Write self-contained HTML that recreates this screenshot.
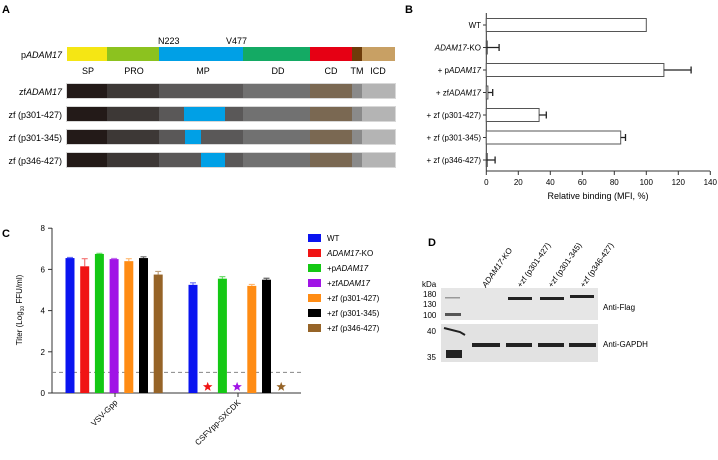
<!DOCTYPE html>
<html><head><meta charset="utf-8"><style>
body{margin:0;background:#fff}
svg{display:block;font-family:"Liberation Sans",Arial,sans-serif}
</style></head><body>
<svg id="fig" width="718" height="460" viewBox="0 0 718 460" xmlns="http://www.w3.org/2000/svg">
<!-- Panel A -->
<g>
<text x="2" y="13" font-size="11" font-weight="bold">A</text>
<text x="158" y="44" font-size="9">N223</text>
<text x="226" y="44" font-size="9">V477</text>
<g font-size="9" text-anchor="end">
<text x="62" y="58">p<tspan font-style="italic">ADAM17</tspan></text>
<text x="62" y="95">zf<tspan font-style="italic">ADAM17</tspan></text>
<text x="62" y="118">zf (p301-427)</text>
<text x="62" y="141">zf (p301-345)</text>
<text x="62" y="164">zf (p346-427)</text>
</g>
<g>
<rect x="67" y="47" width="40" height="14" fill="#f5e614"/>
<rect x="107" y="47" width="52" height="14" fill="#8cc21f"/>
<rect x="159" y="47" width="84" height="14" fill="#00a0e6"/>
<rect x="243" y="47" width="67" height="14" fill="#14aa64"/>
<rect x="310" y="47" width="42" height="14" fill="#e60014"/>
<rect x="352" y="47" width="10" height="14" fill="#6e3c0a"/>
<rect x="362" y="47" width="33" height="14" fill="#c8a064"/>
</g>
<g font-size="9" text-anchor="middle">
<text x="88" y="74">SP</text><text x="134" y="74">PRO</text><text x="203" y="74">MP</text>
<text x="278" y="74">DD</text><text x="331" y="74">CD</text><text x="357" y="74">TM</text><text x="378" y="74">ICD</text>
</g>
<g id="zfrows"></g>
</g>
<!-- Panel B -->
<g>
<text x="405" y="13" font-size="11" font-weight="bold">B</text>
<g id="chartB"></g>
</g>
<!-- Panel C -->
<g>
<text x="2" y="237" font-size="11" font-weight="bold">C</text>
<g id="chartC"></g>
</g>
<!-- Panel D -->
<g>
<text x="428" y="246" font-size="11" font-weight="bold">D</text>
<g font-size="8">
<text transform="translate(486,288) rotate(-55)"><tspan font-style="italic">ADAM17</tspan>-KO</text>
<text transform="translate(521,288) rotate(-55)">+zf (p301-427)</text>
<text transform="translate(552,288) rotate(-55)">+zf (p301-345)</text>
<text transform="translate(584,288) rotate(-55)">+zf (p346-427)</text>
</g>
<g font-size="8">
<text x="422" y="287">kDa</text>
<text x="423" y="297">180</text><text x="423" y="307">130</text><text x="423" y="318">100</text>
<text x="427" y="334">40</text><text x="427" y="360">35</text>
</g>
<rect x="441" y="288" width="157" height="32" fill="#e6e6e6"/>
<rect x="441" y="324" width="157" height="38" fill="#e2e2e2"/>
<g fill="#222">
<rect x="445" y="297" width="15" height="1.5" fill="#999"/>
<rect x="445" y="313" width="16" height="3" fill="#555"/>
<rect x="508" y="297" width="24" height="3"/>
<rect x="540" y="297" width="24" height="3"/>
<rect x="570" y="295" width="24" height="3"/>
<path d="M444 328 L460 332 L465 335" stroke="#222" stroke-width="2" fill="none"/>
<rect x="446" y="350" width="16" height="8"/>
<rect x="472" y="343" width="28" height="4"/>
<rect x="506" y="343" width="26" height="4"/>
<rect x="538" y="343" width="26" height="4"/>
<rect x="569" y="343" width="27" height="4"/>
</g>
<text x="603" y="310" font-size="8">Anti-Flag</text>
<text x="603" y="347" font-size="8">Anti-GAPDH</text>
</g>
</svg>
<script>
const NS="http://www.w3.org/2000/svg";
function mk(parent,tag,attrs,text){const e=document.createElementNS(NS,tag);for(const k in attrs)e.setAttribute(k,attrs[k]);if(text!==undefined)e.textContent=text;parent.appendChild(e);return e;}

// Panel A zf rows
const segX=[67,107,159,243,310,352,362,395];
const zfColors=["#231a18","#3d3836","#5a5858","#717171","#7a6852","#8a8a8a","#b4b4b4"];
const rowY=[84,107,130,153];
const blueSeg=[null,[184,225],[185,201],[201,225]];
const zr=document.getElementById('zfrows');
rowY.forEach((y,r)=>{
  const g=mk(zr,'g',{});
  
  
  mk(g,'rect',{x:66,y:y-1,width:330,height:16,fill:'#d8d8d8'});
  for(let i=0;i<7;i++)mk(g,'rect',{x:segX[i],y:y,width:segX[i+1]-segX[i],height:14,fill:zfColors[i]});
  if(blueSeg[r])mk(g,'rect',{x:blueSeg[r][0],y:y,width:blueSeg[r][1]-blueSeg[r][0],height:14,fill:'#00a0e6'});
});

// Panel B
const bCats=["WT","ADAM17-KO","+ pADAM17","+ zfADAM17","+ zf (p301-427)","+ zf (p301-345)","+ zf (p346-427)"];
const bValues=[100,0,111,1,33,84,0];
const bErrors=[0,8,17,3,4.5,3,5.5];
const bTicks=[0,20,40,60,80,100,120,140];
const cB=document.getElementById('chartB');
const bx=v=>486.3+v*1.6;
const by=i=>25+i*22.5;
mk(cB,'line',{x1:486.3,y1:13,x2:486.3,y2:171,stroke:'#333','stroke-width':1});
mk(cB,'line',{x1:486.3,y1:171,x2:710,y2:171,stroke:'#333','stroke-width':1});
bTicks.forEach(t=>{
  const l=mk(cB,'line',{x1:bx(t),y1:171,x2:bx(t),y2:175,stroke:'#333'});
  
  const tx=mk(cB,'text',{x:bx(t),y:185,'font-size':8,'text-anchor':'middle'},t);
  
});
const bt=mk(cB,'text',{x:598,y:199,'font-size':9,'text-anchor':'middle'},'Relative binding (MFI, %)');

const bLabelHTML=["WT","<tspan font-style='italic'>ADAM17</tspan>-KO","+ p<tspan font-style='italic'>ADAM17</tspan>","+ zf<tspan font-style='italic'>ADAM17</tspan>","+ zf (p301-427)","+ zf (p301-345)","+ zf (p346-427)"];
bCats.forEach((c,i)=>{
  const y=by(i);
  const lab=mk(cB,'text',{x:481,y:y+3,'font-size':8,'text-anchor':'end'});
  lab.innerHTML=bLabelHTML[i];
  
  mk(cB,'line',{x1:483,y1:y,x2:486.3,y2:y,stroke:'#333'});
  const r=mk(cB,'rect',{x:486.3,y:y-6.5,width:Math.max(bValues[i]*1.6,1),height:13,fill:'#fff',stroke:'#555','stroke-width':1});
  
  if(bErrors[i]>0){
    const x1=bx(bValues[i]),x2=bx(bValues[i]+bErrors[i]);
    const e=mk(cB,'path',{d:`M${x1} ${y}H${x2}M${x2} ${y-3.5}V${y+3.5}`,stroke:'#222','stroke-width':1.3,fill:'none'});
    
  }
});

// Panel C
const cGroups=["VSV-Gpp","CSFVpp-SXCDK"];
const cSeries=["WT","ADAM17-KO","+pADAM17","+zfADAM17","+zf (p301-427)","+zf (p301-345)","+zf (p346-427)"];
const cColors=["#0a14f0","#f01414","#14c814","#a014e6","#ff8c14","#000000","#966428"];
const cVSV=[6.55,6.15,6.75,6.5,6.4,6.55,5.75];
const cVSVerr=[0.03,0.37,0.03,0.03,0.12,0.06,0.15];
const cCSFV=[5.25,null,5.55,null,5.2,5.5,null];
const cCSFVerr=[0.1,0,0.1,0,0.07,0.07,0];
const cTicks=[0,2,4,6,8];
const cutoff=1;
const cC=document.getElementById('chartC');
const cy=v=>393-v*20.6;
const groupStart=[70,193];
const cx=(g,s)=>groupStart[g]+s*14.7;
mk(cC,'line',{x1:52,y1:228,x2:52,y2:393,stroke:'#333'});
mk(cC,'line',{x1:52,y1:393,x2:301,y2:393,stroke:'#333'});
cTicks.forEach(t=>{
  mk(cC,'line',{x1:48,y1:cy(t),x2:52,y2:cy(t),stroke:'#333'});
  const tx=mk(cC,'text',{x:45,y:cy(t)+3,'font-size':8,'text-anchor':'end'},t);
  
});
const yt=mk(cC,'text',{transform:'translate(22,310) rotate(-90)','font-size':8,'text-anchor':'middle'});
yt.innerHTML="Titer (Log<tspan font-size='5' dy='2'>10</tspan><tspan dy='-2'> FFU/ml)</tspan>";

const dl=mk(cC,'line',{x1:52,y1:cy(cutoff),x2:301,y2:cy(cutoff),stroke:'#888','stroke-dasharray':'4,3'});

function star(x,y,r,col){let d='';for(let i=0;i<10;i++){const a=-Math.PI/2+i*Math.PI/5;const rr=i%2?r*0.42:r;d+=(i?'L':'M')+(x+rr*Math.cos(a)).toFixed(2)+' '+(y+rr*Math.sin(a)).toFixed(2);}return mk(cC,'path',{d:d+'Z',fill:col});}
[cVSV,cCSFV].forEach((vals,g)=>{
  const errs=g?cCSFVerr:cVSVerr;
  vals.forEach((v,s)=>{
    const x=cx(g,s);
    if(v===null){const st=star(x,cy(0.3),5,cColors[s]);return;}
    if(errs[s]>0){mk(cC,'path',{d:`M${x} ${cy(v)}V${cy(v+errs[s])}M${x-3} ${cy(v+errs[s])}H${x+3}`,stroke:cColors[s],'stroke-width':1.2,opacity:0.6});}
    const r=mk(cC,'rect',{x:x-4.5,y:cy(v),width:9,height:cy(0)-cy(v),fill:cColors[s]});
    
  });
});
[115,238].forEach((x,g)=>{
  mk(cC,'line',{x1:x,y1:393,x2:x,y2:397,stroke:'#333'});
  const t=mk(cC,'text',{transform:`translate(${x+3},403) rotate(-45)`,'font-size':8,'text-anchor':'end'},cGroups[g]);
  
});
const legHTML=["WT","<tspan font-style='italic'>ADAM17</tspan>-KO","+p<tspan font-style='italic'>ADAM17</tspan>","+zf<tspan font-style='italic'>ADAM17</tspan>","+zf (p301-427)","+zf (p301-345)","+zf (p346-427)"];
cSeries.forEach((s,i)=>{
  const y=238+i*15;
  const g=mk(cC,'g',{});
  
  mk(g,'rect',{x:308,y:y-4,width:13,height:8,fill:cColors[i]});
  const t=mk(g,'text',{x:327,y:y+3,'font-size':8});t.innerHTML=legHTML[i];
});
</script>
</body></html>
